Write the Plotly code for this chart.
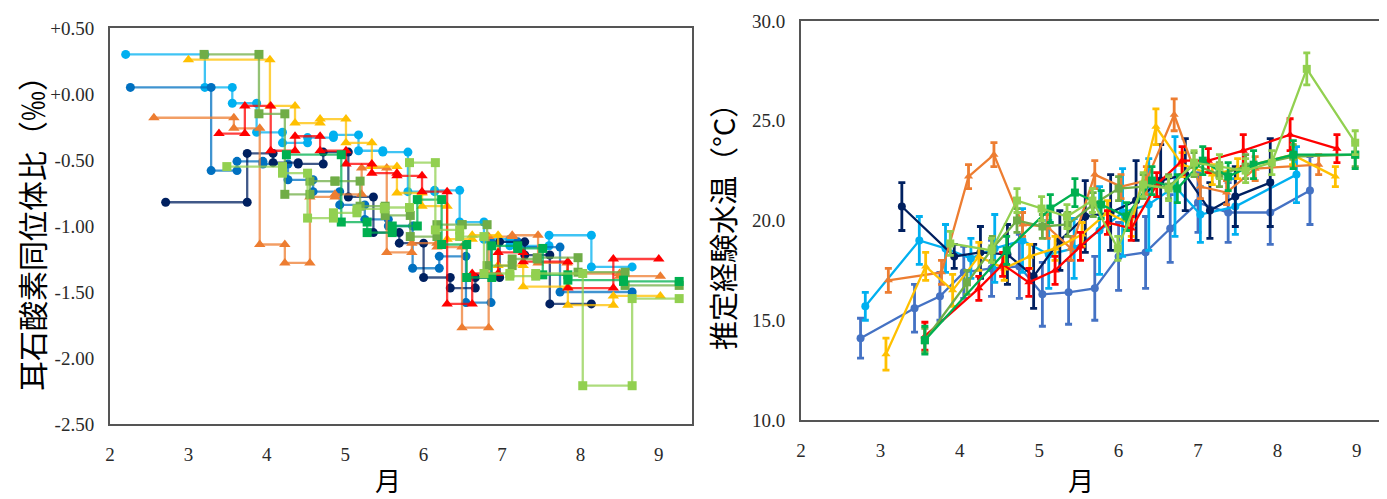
import plotly.graph_objects as go

W, H = 1387, 499

# ---------------- Left chart: otolith oxygen isotope ratio (step series) ----------------
# each series: segment boundaries (month) and the value held on each segment
lb_bounds = [2.20, 3.21, 3.56, 3.87, 4.20, 4.52, 4.85, 5.17, 5.48, 5.80, 6.14, 6.46, 6.77, 7.10, 7.60, 8.14, 8.66]
lb_vals = [0.30, 0.05, -0.07, -0.29, -0.37, -0.33, -0.31, -0.43, -0.44, -0.74, -0.73, -0.97, -1.10, -1.15, -1.07, -1.31]

mb_bounds = [2.26, 3.29, 3.62, 3.95, 4.27, 4.59, 4.93, 5.25, 5.55, 5.86, 6.20, 6.54, 6.86, 7.20, 7.74, 8.66]
mb_vals = [0.05, -0.58, -0.51, -0.53, -0.65, -0.74, -0.84, -0.95, -1.00, -1.32, -1.23, -1.58, -1.12, -1.16, -1.50]

nv_bounds = [2.71, 3.75, 4.08, 4.40, 4.72, 5.04, 5.36, 5.69, 6.00, 6.34, 6.66, 6.97, 7.29, 7.61, 8.14]
nv_vals = [-0.82, -0.45, -0.52, -0.53, -0.44, -0.78, -1.05, -1.13, -1.39, -1.47, -1.39, -1.12, -1.22, -1.59]

or_bounds = [2.56, 3.58, 3.91, 4.23, 4.55, 4.87, 5.21, 5.53, 5.85, 6.17, 6.49, 6.83, 7.13, 7.46, 7.83, 8.50, 9.02]
or_vals = [-0.18, -0.26, -1.14, -1.28, -0.78, -0.76, -0.56, -1.20, -1.13, -1.16, -1.77, -1.08, -1.07, -1.28, -1.36, -1.38]

rd_bounds = [3.39, 3.72, 4.05, 4.36, 4.68, 5.01, 5.34, 5.66, 5.98, 6.30, 6.62, 6.95, 7.27, 7.84, 8.42, 9.00]
rd_vals = [-0.30, -0.09, -0.43, -0.32, -0.43, -0.53, -0.60, -0.62, -0.74, -1.59, -1.36, -1.20, -1.27, -1.47, -1.25]

yl_bounds = [3.00, 4.04, 4.36, 4.68, 5.01, 5.34, 5.66, 5.98, 6.30, 6.62, 6.95, 7.27, 7.84, 8.42, 9.02]
yl_vals = [0.26, -0.09, -0.22, -0.19, -0.37, -0.55, -0.75, -0.85, -1.10, -1.07, -1.30, -1.46, -1.60, -1.53]

dg_bounds = [3.20, 3.90, 4.23, 4.55, 4.87, 5.19, 5.51, 5.83, 6.17, 6.49, 6.81, 7.13, 7.45, 7.97, 8.57, 9.26]
dg_vals = [0.30, -0.15, -0.76, -0.66, -0.66, -0.85, -0.92, -1.08, -0.99, -0.99, -1.30, -1.25, -1.24, -1.35, -1.45]

bg_bounds = [4.25, 4.95, 5.28, 5.60, 5.92, 6.23, 6.55, 6.87, 7.20, 7.52, 7.84, 8.55, 9.26]
bg_vals = [-0.46, -0.97, -1.05, -1.00, -0.80, -1.14, -1.39, -1.15, -1.17, -1.37, -1.41, -1.42]

lg_bounds = [3.49, 4.20, 4.52, 4.85, 5.15, 5.50, 5.82, 6.15, 6.46, 6.77, 7.10, 7.43, 8.03, 8.66, 9.26]
lg_vals = [-0.55, -0.60, -0.94, -0.90, -0.87, -0.86, -0.52, -1.03, -1.08, -1.36, -1.38, -1.36, -2.21, -1.55]

left_y_ticks = [0.5, 0.0, -0.5, -1.0, -1.5, -2.0, -2.5]
left_y_text = ["+0.50", "+0.00", "-0.50", "-1.00", "-1.50", "-2.00", "-2.50"]
x_ticks = [2, 3, 4, 5, 6, 7, 8, 9]

# ---------------- Right chart: estimated experienced water temperature ----------------
sb_m = [2.75, 3.43, 3.75, 4.05, 4.40, 4.75, 5.04, 5.37, 5.70, 6.00, 6.34, 6.65, 7.00, 7.38, 7.91, 8.41]
sb_t = [14.1, 15.6, 16.2, 17.4, 17.6, 17.7, 16.3, 16.4, 16.6, 18.2, 18.4, 19.6, 20.9, 20.4, 20.4, 21.5]
sb_e = [1.0, 1.2, 1.2, 1.3, 1.4, 1.6, 1.6, 1.6, 1.6, 1.7, 1.8, 1.7, 1.5, 1.5, 1.6, 1.7]

cy_m = [2.81, 3.49, 3.82, 4.14, 4.44, 4.79, 5.12, 5.44, 5.76, 6.05, 6.38, 6.71, 7.03, 7.47, 8.24]
cy_t = [15.7, 19.0, 18.6, 18.1, 18.6, 19.0, 18.3, 18.6, 19.5, 20.4, 20.8, 21.7, 20.3, 20.7, 22.3]
cy_e = [0.7, 1.2, 1.2, 1.0, 1.7, 1.6, 1.7, 1.5, 2.2, 2.2, 2.3, 2.5, 1.4, 1.4, 1.4]

nv_m = [3.27, 3.93, 4.26, 4.60, 4.93, 5.26, 5.58, 5.90, 6.22, 6.53, 6.84, 7.15, 7.47, 7.91]
nv_t = [20.7, 18.2, 18.4, 18.3, 17.2, 19.0, 20.2, 20.4, 21.0, 22.0, 22.3, 20.5, 21.2, 21.9]
nv_e = [1.2, 0.6, 1.3, 1.5, 1.6, 1.5, 1.8, 1.9, 2.0, 1.8, 1.8, 1.4, 1.5, 2.2]

ot_m = [3.10, 3.77, 4.11, 4.43, 4.79, 5.10, 5.40, 5.70, 6.03, 6.35, 6.70, 7.03, 7.36, 7.72, 8.52]
ot_t = [17.0, 17.4, 22.2, 23.3, 19.8, 19.7, 18.6, 22.3, 21.7, 22.0, 25.3, 21.7, 21.4, 22.6, 22.8]
ot_e = [0.6, 0.6, 0.6, 0.6, 0.6, 0.6, 0.6, 0.7, 0.6, 0.7, 0.8, 0.6, 0.6, 0.6, 0.5]

rt_m = [3.56, 4.24, 4.54, 4.87, 5.20, 5.52, 5.86, 6.16, 6.48, 6.80, 7.13, 7.57, 8.16, 8.75]
rt_t = [14.2, 16.6, 17.8, 16.9, 17.5, 18.7, 19.9, 19.6, 21.8, 23.0, 23.0, 23.5, 24.3, 23.6]
rt_e = [0.7, 0.6, 0.6, 0.7, 0.7, 0.7, 0.6, 0.6, 0.6, 0.7, 0.6, 0.8, 0.8, 0.7]

yt_m = [3.07, 3.57, 3.91, 4.24, 4.56, 4.88, 5.20, 5.54, 5.86, 6.16, 6.47, 6.80, 7.18, 7.50, 8.19, 8.73]
yt_t = [13.3, 17.7, 16.5, 18.2, 17.6, 18.2, 18.6, 19.3, 20.4, 19.8, 24.7, 22.8, 22.3, 22.6, 23.3, 22.2]
yt_e = [0.8, 0.7, 0.8, 0.7, 0.6, 0.6, 0.6, 0.6, 0.6, 0.6, 0.9, 0.6, 0.5, 0.5, 0.5, 0.5]

gt_m = [3.56, 4.09, 4.41, 4.72, 5.04, 5.36, 5.68, 6.00, 6.31, 6.63, 6.95, 7.27, 7.60, 8.20, 8.98]
gt_t = [14.0, 16.9, 18.6, 20.0, 19.7, 19.8, 20.8, 21.6, 21.7, 21.7, 22.8, 22.3, 22.7, 23.2, 23.3]
gt_e = [0.6, 0.6, 0.6, 0.6, 0.6, 0.6, 0.6, 0.6, 0.6, 0.6, 0.6, 0.6, 0.6, 0.6, 0.6]

bt_m = [3.56, 4.59, 5.14, 5.45, 5.78, 6.10, 6.42, 6.74, 7.06, 7.38, 7.70, 8.20, 8.98]
bt_t = [14.0, 18.5, 20.6, 21.4, 20.8, 20.2, 22.0, 21.6, 23.0, 22.2, 22.8, 23.3, 23.3]
bt_e = [0.7, 0.7, 0.7, 0.7, 0.7, 0.7, 0.7, 0.7, 0.7, 0.7, 0.7, 0.7, 0.7]

lt_m = [3.88, 4.40, 4.72, 5.03, 5.35, 5.67, 5.99, 6.31, 6.63, 6.95, 7.27, 7.60, 7.93, 8.37, 8.98]
lt_t = [18.85, 18.5, 21.0, 20.6, 20.2, 21.0, 18.6, 21.8, 21.6, 22.9, 22.7, 22.5, 22.9, 27.6, 23.9]
lt_e = [0.6, 0.6, 0.6, 0.6, 0.6, 0.6, 0.6, 0.6, 0.6, 0.6, 0.6, 0.6, 0.6, 0.8, 0.6]

right_y_ticks = [10, 15, 20, 25, 30]
right_y_text = ["10.0", "15.0", "20.0", "25.0", "30.0"]

# ---------------- styling ----------------
C_LB, C_MB, C_NV = "#00B0F0", "#0070C0", "#002060"
C_SB = "#4472C4"
C_OR, C_RD, C_YL = "#ED7D31", "#FF0000", "#FFC000"
C_DG, C_BG, C_LG = "#70AD47", "#00B050", "#92D050"


def rgba(hexc, a):
    h = hexc.lstrip("#")
    return "rgba(%d,%d,%d,%.2f)" % (int(h[0:2], 16), int(h[2:4], 16), int(h[4:6], 16), a)


def steps(bounds, vals):
    xs, ys = [], []
    for i, v in enumerate(vals):
        xs += [bounds[i], bounds[i + 1]]
        ys += [v, v]
    return xs, ys


fig = go.Figure()

left_series = [
    (lb_bounds, lb_vals, C_LB, "circle", 9),
    (mb_bounds, mb_vals, C_MB, "circle", 9),
    (nv_bounds, nv_vals, C_NV, "circle", 9),
    (or_bounds, or_vals, C_OR, "triangle-up", 10),
    (yl_bounds, yl_vals, C_YL, "triangle-up", 10),
    (rd_bounds, rd_vals, C_RD, "triangle-up", 10),
    (dg_bounds, dg_vals, C_DG, "square", 9),
    (bg_bounds, bg_vals, C_BG, "square", 9),
    (lg_bounds, lg_vals, C_LG, "square", 9),
]
for b, v, c, sym, sz in left_series:
    xs, ys = steps(b, v)
    fig.add_trace(go.Scatter(
        x=xs, y=ys, mode="lines+markers", xaxis="x", yaxis="y",
        line=dict(color=rgba(c, 0.75), width=2.3),
        marker=dict(color=c, symbol=sym, size=sz, line=dict(width=0)),
        showlegend=False, hoverinfo="skip"))

right_series = [
    (sb_m, sb_t, sb_e, C_SB, "circle"),
    (cy_m, cy_t, cy_e, C_LB, "circle"),
    (nv_m, nv_t, nv_e, C_NV, "circle"),
    (ot_m, ot_t, ot_e, C_OR, "triangle-up"),
    (yt_m, yt_t, yt_e, C_YL, "triangle-up"),
    (rt_m, rt_t, rt_e, C_RD, "triangle-up"),
    (gt_m, gt_t, gt_e, C_DG, "square"),
    (bt_m, bt_t, bt_e, C_BG, "square"),
    (lt_m, lt_t, lt_e, C_LG, "square"),
]
for m, t, e, c, sym in right_series:
    fig.add_trace(go.Scatter(
        x=m, y=t, mode="lines+markers", xaxis="x2", yaxis="y2",
        line=dict(color=c, width=2.3),
        marker=dict(color=c, symbol=sym, size=8, line=dict(width=0)),
        error_y=dict(type="data", array=e, visible=True, color=c, thickness=2.8, width=3.5),
        showlegend=False, hoverinfo="skip"))

tick_font = dict(family="Liberation Serif, Times New Roman, serif", size=19, color="#2a2a2a")
axis_common = dict(showgrid=False, zeroline=False, ticks="", showline=True, automargin=False,
                   linecolor="#555555", linewidth=2, tickfont=tick_font)

# pixel geometry (the page adds an 8px body margin, so targets are shifted by -8)
OFF = 8
L_x0, L_x1, L_y0, L_y1 = 110 - OFF, 692 - OFF, 28 - OFF, 424 - OFF
R_x0, R_x1, R_y0, R_y1 = 801 - OFF, W, 21 - OFF, 420 - OFF

fig.update_layout(
    width=W, height=H,
    margin=dict(l=0, r=0, t=0, b=0, autoexpand=False),
    paper_bgcolor="white", plot_bgcolor="white",
    xaxis=dict(axis_common, domain=[L_x0 / W, L_x1 / W], range=[2, 2 + (L_x1 - L_x0) / 78.4],
               tickvals=x_ticks, mirror=True, anchor="y", ticklabelstandoff=12),
    yaxis=dict(axis_common, domain=[(H - L_y1) / H, (H - L_y0) / H], range=[-2.5, 0.5],
               tickvals=left_y_ticks, ticktext=left_y_text, mirror=True, anchor="x",
               ticklabelstandoff=10),
    xaxis2=dict(axis_common, domain=[R_x0 / W, R_x1 / W], range=[2, 2 + (R_x1 - R_x0) / 79.4],
                tickvals=x_ticks, mirror=True, anchor="y2", ticklabelstandoff=12),
    yaxis2=dict(axis_common, domain=[(H - R_y1) / H, (H - R_y0) / H], range=[10, 30],
                tickvals=right_y_ticks, ticktext=right_y_text, mirror=False, anchor="x2",
                ticklabelstandoff=10),
)

title_font = dict(family="Noto Sans CJK JP", size=30, color="#000000")
fig.add_annotation(text="耳石酸素同位体比（‰）", x=(31 - OFF) / W, y=(H - 226 + OFF) / H,
                   xref="paper", yref="paper", showarrow=False, textangle=-90, font=title_font,
                   xanchor="center", yanchor="middle")
fig.add_annotation(text="推定経験水温（°C）", x=(722 - OFF) / W, y=(H - 220 + OFF) / H,
                   xref="paper", yref="paper", showarrow=False, textangle=-90,
                   font=dict(title_font, size=29), xanchor="center", yanchor="middle")
fig.add_annotation(text="月", x=(388 - OFF) / W, y=(H - 479 + OFF) / H, xref="paper", yref="paper",
                   showarrow=False, font=dict(title_font, size=26), xanchor="center", yanchor="middle")
fig.add_annotation(text="月", x=(1081 - OFF) / W, y=(H - 479 + OFF) / H, xref="paper", yref="paper",
                   showarrow=False, font=dict(title_font, size=26), xanchor="center", yanchor="middle")

fig.write_html("out.html")
